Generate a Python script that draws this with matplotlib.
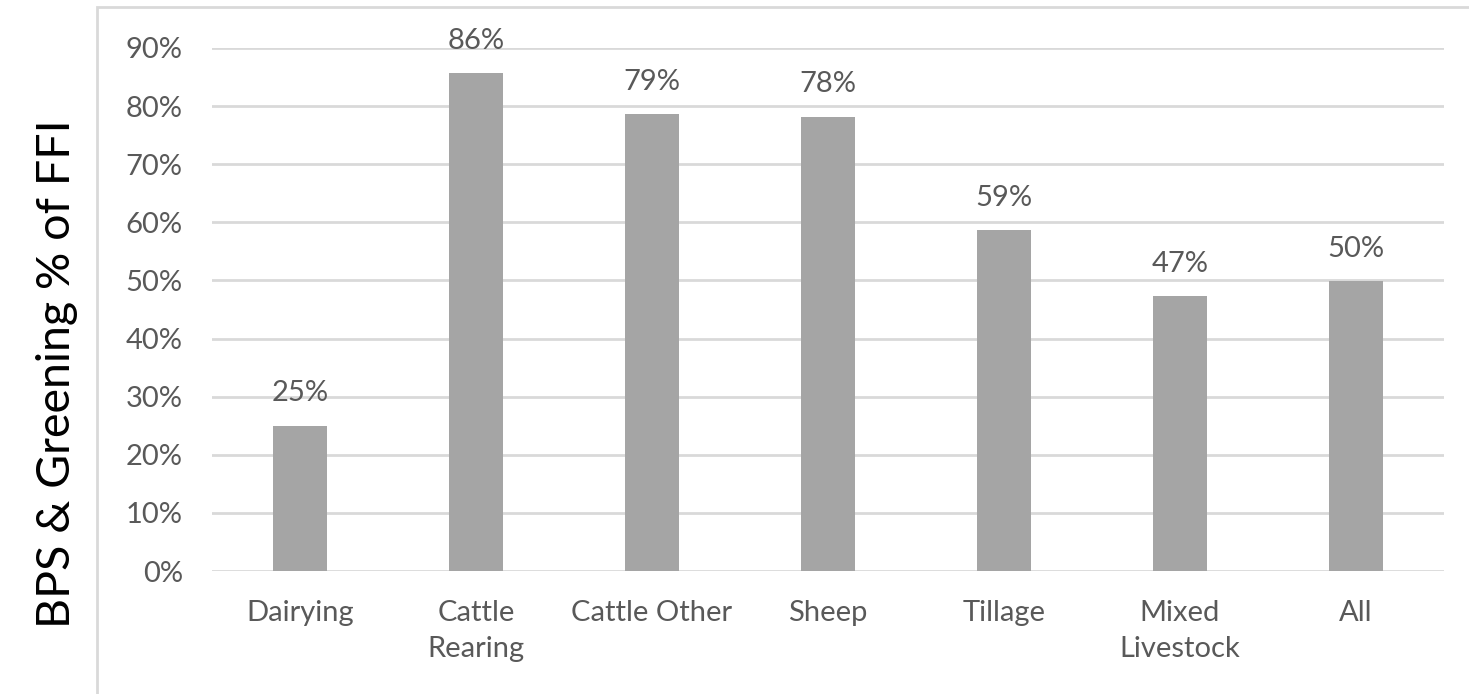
import matplotlib
matplotlib.use("Agg")
import matplotlib.pyplot as plt
from matplotlib.patches import Rectangle
from matplotlib.ticker import FuncFormatter, MultipleLocator

categories = ["Dairying", "Cattle\nRearing", "Cattle Other", "Sheep", "Tillage", "Mixed\nLivestock", "All"]
share_pct = [25.0, 85.7, 78.6, 78.2, 58.6, 47.3, 49.9]

BAR_COLOR = "#a5a5a5"
TEXT_COLOR = "#595959"
GRID_COLOR = "#d9d9d9"

plt.rcParams["font.family"] = ["Lato", "DejaVu Sans"]

W, H = 1469, 694
fig = plt.figure(figsize=(W / 100, H / 100), dpi=100)

# light outer frame around the chart area
frame = Rectangle((97 / W, -0.05), 1.2, (H - 7) / H + 0.05, transform=fig.transFigure,
                  fill=False, edgecolor=GRID_COLOR, linewidth=2, zorder=0)
fig.patches.append(frame)

ax = fig.add_axes([212 / W, (H - 571) / H, (1444 - 212) / W, (571 - 48) / H])
x = range(len(categories))
bars = ax.bar(x, share_pct, width=0.31, color=BAR_COLOR, zorder=3)

ax.set_xlim(-0.5, len(categories) - 0.5)
ax.set_ylim(0, 90)
ax.yaxis.set_major_locator(MultipleLocator(10))
ax.yaxis.set_major_formatter(FuncFormatter(lambda v, p: f"{v:.0f}%"))
ax.grid(axis="y", color=GRID_COLOR, linewidth=2, zorder=0)
ax.set_axisbelow(True)
for s in ax.spines.values():
    s.set_visible(False)

ax.set_xticks(list(x))
ax.set_xticklabels(categories, linespacing=1.45)
ax.tick_params(axis="both", length=0, labelsize=21, labelcolor=TEXT_COLOR)
ax.tick_params(axis="y", pad=21)
ax.tick_params(axis="x", pad=21)

for rect, v in zip(bars, share_pct):
    ax.annotate(f"{v:.0f}%", (rect.get_x() + rect.get_width() / 2, v),
                xytext=(0, 14), textcoords="offset points",
                ha="center", va="bottom", fontsize=21, color=TEXT_COLOR,
                annotation_clip=False)

fig.text(57 / W, 0.462, "BPS & Greening % of FFI", rotation=90,
         ha="center", va="center", fontsize=33.5, color="black")

fig.savefig("out.png", dpi=100)
